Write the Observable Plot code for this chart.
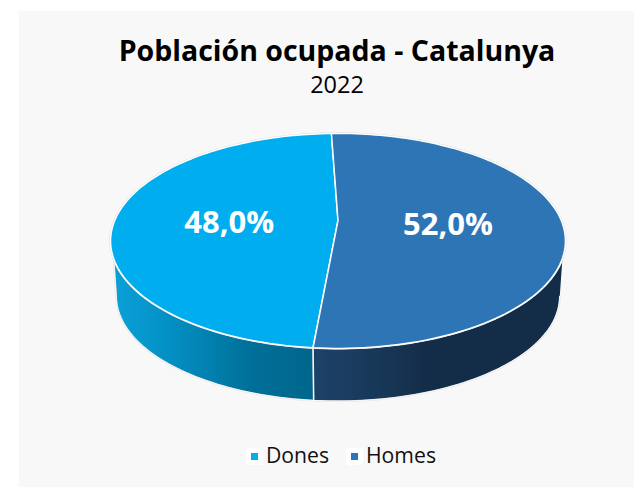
<!DOCTYPE html>
<html><head><meta charset="utf-8">
<script src="https://cdn.jsdelivr.net/npm/d3@7"></script>
<script src="https://cdn.jsdelivr.net/npm/@observablehq/plot@0.6"></script>
<style>
html,body{margin:0;padding:0;background:#fff;width:634px;height:487px;overflow:hidden}
#panel{position:absolute;left:19px;top:11px;right:0;bottom:0;background:#f8f8f8}
#wrap{position:absolute;left:0;top:0;width:634px;height:487px;font-family:"Open Sans",sans-serif;color:#000}
#title{position:absolute;left:0;width:674px;top:31px;text-align:center;font-weight:700;font-size:28.5px;line-height:38px;white-space:nowrap}
#sub{position:absolute;left:0;width:674px;top:69px;text-align:center;font-size:23.5px;line-height:30px}
#chart{position:absolute;left:0;top:100px}
#chart svg{display:block;background:transparent}
.sw{position:absolute;top:448px;width:17px;height:17px;background:#fff;border-radius:3px}
.sw i{position:absolute;left:5px;top:5px;width:7px;height:7px}
.lb{position:absolute;top:440px;font-size:21.2px;line-height:30px;color:#111}
</style></head><body>
<div id="panel"></div>
<div id="wrap">
<div id="title">Población ocupada - Catalunya</div>
<div id="sub">2022</div>
<div id="chart"></div>
<div class="sw" style="left:246px"><i style="background:#00aeef"></i></div><div class="lb" style="left:266px">Dones</div>
<div class="sw" style="left:346px"><i style="background:#2e75b6"></i></div><div class="lb" style="left:366px">Homes</div>
</div>
<script>
const categories = ["Homes", "Dones"];
const shares = [52.0, 48.0];
const labels = ["52,0%", "48,0%"];
const topColors = ["#2e75b6", "#00aeef"];

// perspective tilt of the disc, first slice angle, wall drop and bottom-rim shrink
const tilt = 0.19, startDeg = -2, drop = 0.54, shrink = 0.975;
const rad = Math.PI / 180;
const P = (deg, r = 1, lower = false) => {
  const a = deg * rad, w = 1 + tilt * Math.cos(a), s = lower ? shrink : 1;
  return {x: s * r * Math.sin(a) / w, y: s * r * Math.cos(a) / w - (lower ? drop : 0)};
};
const total = d3.sum(shares);
let acc = startDeg;
const slices = categories.map((c, i) => {
  const a0 = acc, a1 = acc + shares[i] / total * 360; acc = a1;
  return {c, a0, a1, mid: (a0 + a1) / 2, label: labels[i], color: topColors[i]};
});
const arc = (a0, a1, r = 1, lower = false) => {
  const n = Math.max(2, Math.ceil(Math.abs(a1 - a0) / 1.5));
  return d3.range(n + 1).map(i => P(a0 + (a1 - a0) * i / n, r, lower));
};
const sector = s => [P(0, 0), ...arc(s.a0, s.a1), P(0, 0)].map(p => ({...p, c: s.c}));
const [homes, dones] = slices;
// walls: visible lower part of the rim, between the silhouette angles
const wallH = [...arc(110, homes.a1), ...arc(homes.a1, 101, 1, true)];
const wallD = [...arc(dones.a0, 250), ...arc(259, dones.a0, 1, true)];
const disc = arc(0, 360);

const defs = () => {
  const d = d3.create("svg:defs");
  const add = (id, stops) => {
    const g = d.append("linearGradient").attr("id", id);
    stops.forEach(([o, c]) => g.append("stop").attr("offset", o).attr("stop-color", c));
  };
  add("gD", [[0, "#0aa0d8"], [0.25, "#0492c6"], [0.7, "#006f98"], [1, "#00668c"]]);
  add("gH", [[0, "#1d4269"], [0.3, "#173655"], [0.45, "#132d49"], [1, "#132d49"]]);
  return d.node();
};

const chart = Plot.plot({
  width: 634, height: 320, margin: 0,
  x: {type: "linear", domain: [-1, 1], range: [337.5 - 223.3, 337.5 + 223.3], axis: null},
  y: {type: "linear", domain: [-1, 1], range: [120 + 103.6, 120 - 103.6], axis: null},
  marks: [
    defs,
    Plot.line(wallD, {x: "x", y: "y", fill: "url(#gD)", stroke: "#dedede", strokeWidth: 1.6, curve: "linear"}),
    Plot.line(wallH, {x: "x", y: "y", fill: "url(#gH)", stroke: "#dedede", strokeWidth: 1.6, curve: "linear"}),
    Plot.line(wallD, {x: "x", y: "y", fill: "none", stroke: "#fff", strokeWidth: 0.8}),
    Plot.line(wallH, {x: "x", y: "y", fill: "none", stroke: "#fff", strokeWidth: 0.8}),
    Plot.line(disc, {x: "x", y: "y", fill: "none", stroke: "#d8d8d8", strokeWidth: 2.2}),
    Plot.line(sector(dones), {x: "x", y: "y", fill: dones.color, stroke: "#fff", strokeWidth: 1.5, strokeLinejoin: "round"}),
    Plot.line(sector(homes), {x: "x", y: "y", fill: homes.color, stroke: "#fff", strokeWidth: 1.5, strokeLinejoin: "round"}),
    Plot.text([homes], {x: d => P(d.mid, 0.49).x, y: d => P(d.mid, 0.49).y, text: "label", fill: "#fff", fontSize: 31, fontWeight: 700, dy: 3, fontFamily: "Open Sans"}),
    Plot.text([dones], {x: d => P(d.mid, 0.49).x, y: d => P(d.mid, 0.49).y, text: "label", fill: "#fff", fontSize: 31, fontWeight: 700, dy: 4, fontFamily: "Open Sans"})
  ]
});
document.getElementById("chart").append(chart);
</script>
</body></html>
